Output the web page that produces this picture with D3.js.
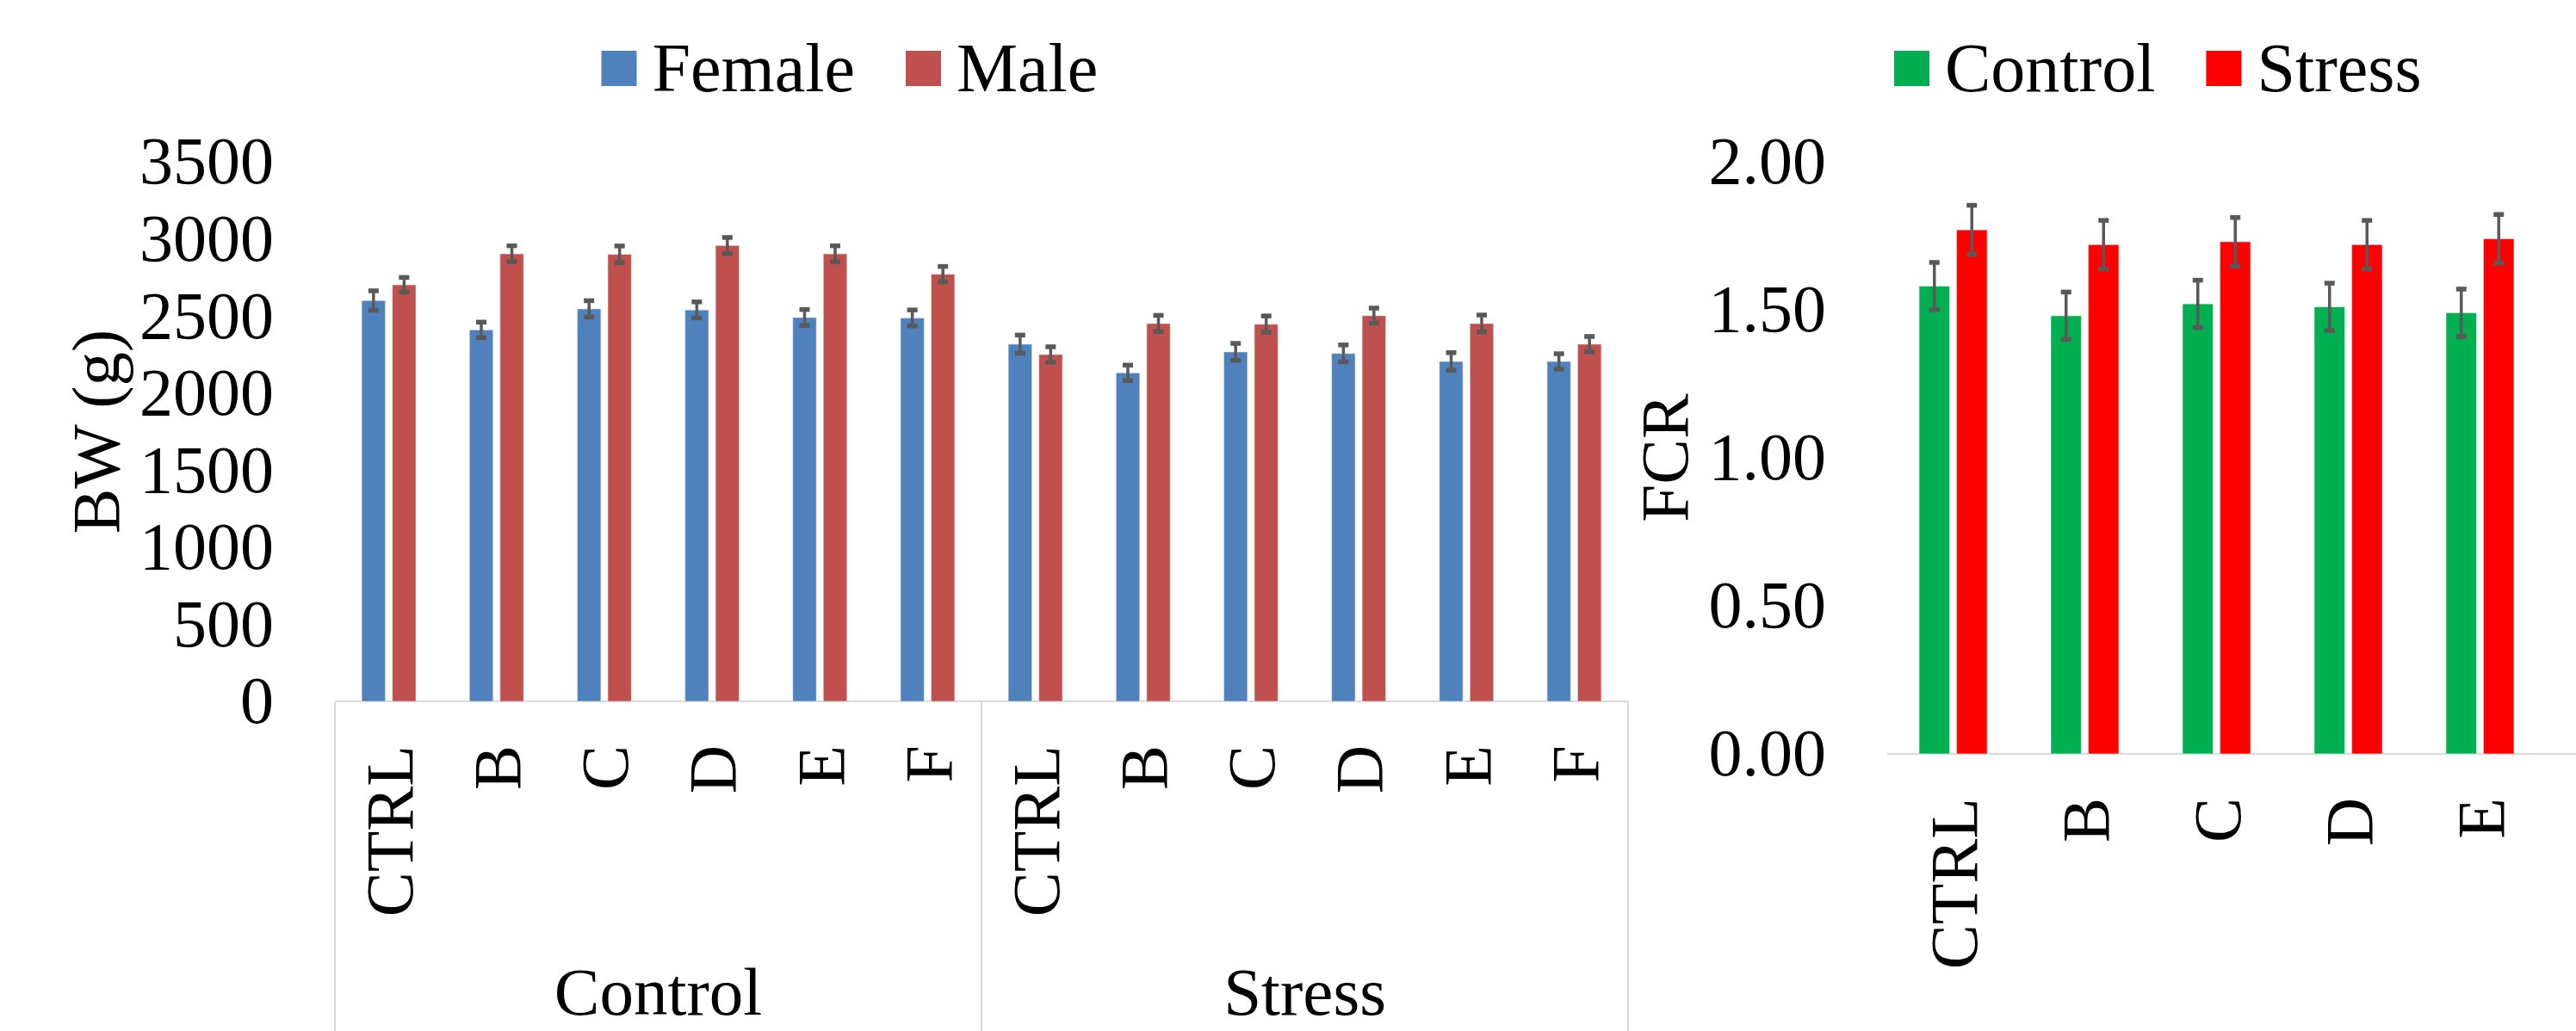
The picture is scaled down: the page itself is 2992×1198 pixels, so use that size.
<!DOCTYPE html>
<html>
<head>
<meta charset="utf-8">
<script src="https://cdn.jsdelivr.net/npm/d3@7"></script>
<style>
  html, body { margin: 0; padding: 0; background: #fff; }
  svg { display: block; }
  text { font-family: "Liberation Serif", "Times New Roman", serif; fill: #000; }
</style>
</head>
<body>
<svg id="chart" width="2992" height="1198"></svg>
<script>
// ---- Body weight (BW, g) by treatment, within Control / Stress housing ----
const bwGroups = ["Control", "Stress"];
const bwTreatments = ["CTRL", "B", "C", "D", "E", "F"];
const bwSeries = ["Female", "Male"];
const femaleBW  = [2600, 2410, 2546, 2539, 2490, 2487, 2317, 2131, 2267, 2257, 2205, 2205];
const maleBW    = [2702, 2903, 2900, 2957, 2903, 2771, 2250, 2451, 2447, 2502, 2451, 2317];
const femaleErr = [63, 50, 53, 52, 52, 52, 59, 50, 55, 55, 57, 50];
const maleErr   = [48, 52, 54, 52, 52, 50, 50, 53, 53, 49, 55, 50];
const bwTicks = [0, 500, 1000, 1500, 2000, 2500, 3000, 3500];

// ---- Feed conversion ratio (FCR) by treatment ----
const fcrCategories = ["CTRL", "B", "C", "D", "E"];
const fcrSeries = ["Control", "Stress"];
const fcrControl    = [1.58, 1.48, 1.52, 1.51, 1.49];
const fcrStress     = [1.77, 1.72, 1.73, 1.72, 1.74];
const fcrControlErr = [0.08, 0.08, 0.08, 0.08, 0.08];
const fcrStressErr  = [0.083, 0.082, 0.082, 0.082, 0.082];
const fcrTicks = [0, 0.5, 1, 1.5, 2];

const svg = d3.select("#chart");
const AXIS_GREY = "#d9d9d9";
const ERR_GREY = "#595959";
const TICK_FONT = 78;
const LABEL_FONT = 79;

// draws a clustered bar set with error bars
function drawBars(g, rows, x0, x1, y, colors) {
  const grp = g.selectAll("g.cat").data(rows).join("g")
    .attr("class", "cat")
    .attr("transform", d => `translate(${x0(d.key)},0)`);
  grp.selectAll("rect").data(d => d.values).join("rect")
    .attr("x", d => x1(d.series))
    .attr("y", d => y(d.value))
    .attr("width", x1.bandwidth())
    .attr("height", d => y(0) - y(d.value))
    .attr("fill", d => colors(d.series))
    .attr("stroke", "#ffffff")
    .attr("stroke-opacity", 0.45)
    .attr("stroke-width", 1.2);
  const eb = grp.selectAll("g.err").data(d => d.values).join("g").attr("class", "err");
  eb.append("line")
    .attr("x1", d => x1(d.series) + x1.bandwidth() / 2)
    .attr("x2", d => x1(d.series) + x1.bandwidth() / 2)
    .attr("y1", d => y(d.value + d.err))
    .attr("y2", d => y(d.value - d.err))
    .attr("stroke", ERR_GREY).attr("stroke-width", 3.5);
  [1, -1].forEach(s => {
    eb.append("rect")
      .attr("x", d => x1(d.series) + x1.bandwidth() / 2 - 6)
      .attr("y", d => y(d.value + s * d.err) - 2.75)
      .attr("width", 12).attr("height", 5.5)
      .attr("fill", ERR_GREY);
  });
}

function drawYAxis(g, y, ticks, fmt, x) {
  const ax = g.append("g")
    .attr("transform", `translate(${x},0)`)
    .call(d3.axisLeft(y).tickValues(ticks).tickFormat(fmt).tickSize(0).tickPadding(71));
  ax.select(".domain").remove();
  ax.selectAll("text")
    .style("font-family", '"Liberation Serif", "Times New Roman", serif')
    .style("font-size", TICK_FONT + "px")
    .attr("fill", "#000");
}

function drawLegend(g, names, colors, x, y) {
  let cx = x;
  names.forEach(n => {
    g.append("rect").attr("x", cx).attr("y", y).attr("width", 41).attr("height", 41)
      .attr("fill", colors(n));
    const t = g.append("text").attr("x", cx + 59).attr("y", y + 47)
      .style("font-size", "80px").text(n);
    cx += 59 + t.node().getComputedTextLength() + 59;
  });
}

// ================= Left panel: BW =================
{
  const g = svg.append("g");
  const categories = [];
  bwGroups.forEach(gr => bwTreatments.forEach(t => categories.push(gr + "|" + t)));
  const x0 = d3.scaleBand().domain(categories).range([389, 1891]).paddingInner(0).paddingOuter(0);
  const step = x0.bandwidth();
  const half = 31.5;
  const x1 = d3.scaleBand().domain(bwSeries)
    .range([step / 2 - half, step / 2 + half]).paddingInner(0.2254).paddingOuter(0);
  const y = d3.scaleLinear().domain([0, 3500]).range([815, 188]);
  const colors = d3.scaleOrdinal().domain(bwSeries).range(["#4f81bd", "#c0504d"]);

  const rows = categories.map((k, i) => ({
    key: k,
    values: [
      { series: "Female", value: femaleBW[i], err: femaleErr[i] },
      { series: "Male", value: maleBW[i], err: maleErr[i] }
    ]
  }));

  drawYAxis(g, y, bwTicks, d3.format("d"), 389);

  // category axis frame (multi-level)
  g.append("line").attr("x1", 389).attr("x2", 1891).attr("y1", y(0)).attr("y2", y(0))
    .attr("stroke", AXIS_GREY).attr("stroke-width", 2);
  const groupEdges = [0, bwTreatments.length, categories.length].map(i =>
    i < categories.length ? x0(categories[i]) : x0.range()[1]);
  g.selectAll("line.sep").data(groupEdges).join("line").attr("class", "sep")
    .attr("x1", d => d).attr("x2", d => d).attr("y1", y(0)).attr("y2", 1198)
    .attr("stroke", AXIS_GREY).attr("stroke-width", 2);

  drawBars(g, rows, x0, x1, y, colors);

  // treatment labels (rotated)
  g.selectAll("text.cat").data(categories).join("text").attr("class", "cat")
    .attr("transform", d => `translate(${x0(d) + step / 2},866) rotate(-90)`)
    .attr("text-anchor", "end").attr("dy", "0.35em")
    .style("font-size", TICK_FONT + "px")
    .text(d => d.split("|")[1]);

  // group labels
  g.selectAll("text.grp").data(bwGroups).join("text").attr("class", "grp")
    .attr("x", (d, i) => (groupEdges[i] + groupEdges[i + 1]) / 2)
    .attr("y", 1179).attr("text-anchor", "middle")
    .style("font-size", LABEL_FONT + "px").text(d => d);

  // y title
  g.append("text")
    .attr("transform", `translate(138,${(y(0) + y(3500)) / 2}) rotate(-90)`)
    .attr("text-anchor", "middle").style("font-size", LABEL_FONT + "px")
    .text("BW (g)");

  drawLegend(g, bwSeries, colors, 698.5, 59);
}

// ================= Right panel: FCR =================
{
  const g = svg.append("g");
  const x0 = d3.scaleBand().domain(fcrCategories).range([2192, 2192 + 153 * fcrCategories.length])
    .paddingInner(0).paddingOuter(0);
  const step = x0.bandwidth();
  const half = 39.5;
  const x1 = d3.scaleBand().domain(fcrSeries)
    .range([step / 2 - half, step / 2 + half]).paddingInner(0.1839).paddingOuter(0);
  const y = d3.scaleLinear().domain([0, 2]).range([876, 188]);
  const colors = d3.scaleOrdinal().domain(fcrSeries).range(["#00b050", "#ff0000"]);

  const rows = fcrCategories.map((k, i) => ({
    key: k,
    values: [
      { series: "Control", value: fcrControl[i], err: fcrControlErr[i] },
      { series: "Stress", value: fcrStress[i], err: fcrStressErr[i] }
    ]
  }));

  drawYAxis(g, y, fcrTicks, d3.format(".2f"), 2192);

  g.append("line").attr("x1", 2192).attr("x2", 2992).attr("y1", y(0)).attr("y2", y(0))
    .attr("stroke", AXIS_GREY).attr("stroke-width", 2);

  drawBars(g, rows, x0, x1, y, colors);

  g.selectAll("text.cat").data(fcrCategories).join("text").attr("class", "cat")
    .attr("transform", d => `translate(${x0(d) + step / 2},927) rotate(-90)`)
    .attr("text-anchor", "end").attr("dy", "0.35em")
    .style("font-size", TICK_FONT + "px")
    .text(d => d);

  g.append("text")
    .attr("transform", `translate(1960,${(y(0) + y(2)) / 2}) rotate(-90)`)
    .attr("text-anchor", "middle").style("font-size", LABEL_FONT + "px")
    .text("FCR");

  drawLegend(g, fcrSeries, colors, 2200, 59);
}
</script>
</body>
</html>
